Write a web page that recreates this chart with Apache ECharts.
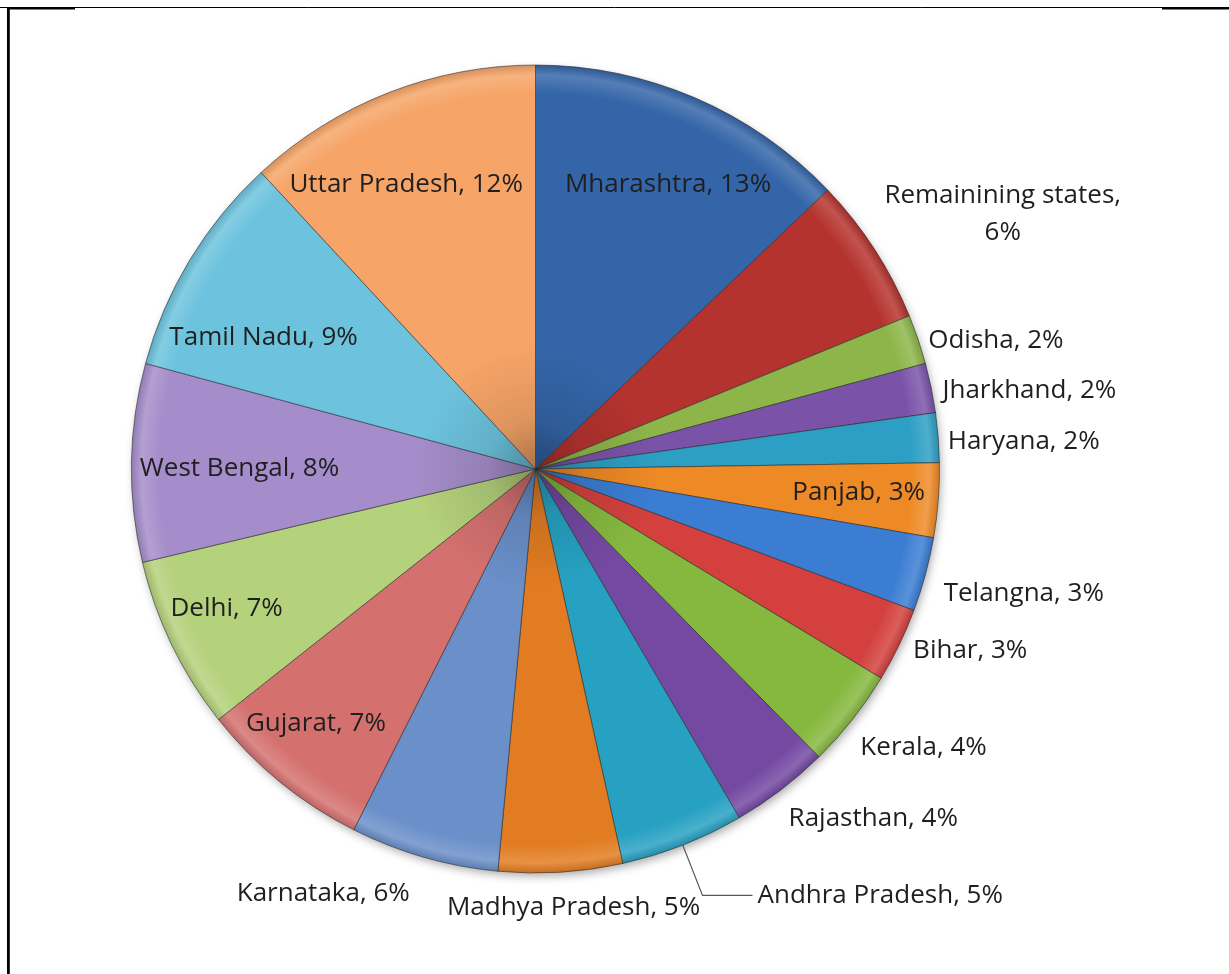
<!DOCTYPE html>
<html>
<head>
<meta charset="utf-8">
<script src="https://cdn.jsdelivr.net/npm/echarts@6/dist/echarts.min.js"></script>
<style>
  html, body { margin: 0; padding: 0; background: #ffffff; }
  #chart { width: 1229px; height: 974px; }
</style>
</head>
<body>
<div id="chart"></div>
<script>
// Share of each state, listed clockwise from 12 o'clock
const states = [
  'Mharashtra', 'Remainining states', 'Odisha', 'Jharkhand', 'Haryana', 'Panjab',
  'Telangna', 'Bihar', 'Kerala', 'Rajasthan', 'Andhra Pradesh', 'Madhya Pradesh',
  'Karnataka', 'Gujarat', 'Delhi', 'West Bengal', 'Tamil Nadu', 'Uttar Pradesh'
];
const shares = [13, 6, 2, 2, 2, 3, 3, 3, 4, 4, 5, 5, 6, 7, 7, 8, 9, 12];
const sliceColors = [
  '#3465A8', '#B5332F', '#8DB54A', '#7A53A8', '#2D9FC4', '#EE8A26',
  '#3B7DD3', '#D3403D', '#86B83F', '#7449A2', '#27A1C2', '#E27C22',
  '#6A8FC9', '#D4716F', '#B4D17B', '#A48DCA', '#6DC3DE', '#F6A467'
];

// Pie geometry
const CX = 535.5, CY = 469, R = 404;

// Label placement: [distance from centre in px, angular nudge in degrees from the slice middle]
const labelSpots = {
  'Mharashtra': [314, 1.8],
  'Remainining states': [532, 4.4],
  'Odisha': [478, 3.1],
  'Jharkhand': [500, 2.6],
  'Haryana': [489, 1.2],
  'Panjab': [324, -0.3],
  'Telangna': [504, -0.8],
  'Bihar': [471, -3.2],
  'Kerala': [478, -2.6],
  'Rajasthan': [486, -6.6],
  'Madhya Pradesh': [440, -1.4],
  'Karnataka': [475, 10.5],
  'Gujarat': [336, 1.6],
  'Delhi': [339, 1.5],
  'West Bengal': [296, -0.8],
  'Tamil Nadu': [302, -5.4],
  'Uttar Pradesh': [312, -3.1]
};

function shade(hex, f) {
  const n = parseInt(hex.slice(1), 16);
  let r = (n >> 16) & 255, g = (n >> 8) & 255, b = n & 255;
  const t = f < 0 ? 0 : 255, p = Math.abs(f);
  r = Math.round(r + (t - r) * p);
  g = Math.round(g + (t - g) * p);
  b = Math.round(b + (t - b) * p);
  return 'rgb(' + r + ',' + g + ',' + b + ')';
}

// Bevel-like fill: darker toward the hub, bright band just inside the rim
function bevelFill(c) {
  return {
    type: 'radial', x: CX, y: CY, r: R, global: true,
    colorStops: [
      { offset: 0, color: shade(c, -0.3) },
      { offset: 0.12, color: shade(c, -0.1) },
      { offset: 0.3, color: c },
      { offset: 0.93, color: c },
      { offset: 0.975, color: shade(c, 0.16) },
      { offset: 1, color: shade(c, -0.12) }
    ]
  };
}

const total = shares.reduce((a, b) => a + b, 0);

const pieData = states.map((name, i) => {
  const item = {
    name: name,
    value: shares[i],
    itemStyle: { color: bevelFill(sliceColors[i]) }
  };
  if (!labelSpots[name]) {
    item.labelLine = {
      show: true, length: 54, length2: 50,
      lineStyle: { color: '#5a5a5a', width: 1.2 }
    };
    item.label = { padding: [0, 0, 14, 0] };
  }
  return item;
});

const chart = echarts.init(document.getElementById('chart'), null, { renderer: 'canvas' });

chart.setOption({
  backgroundColor: '#ffffff',
  animation: false,
  graphic: [
    { type: 'line', silent: true, shape: { x1: 0, y1: 7.5, x2: 1229, y2: 7.5 }, style: { stroke: '#000', lineWidth: 1 } },
    { type: 'rect', silent: true, shape: { x: 7, y: 7, width: 68, height: 2.5 }, style: { fill: '#000' } },
    { type: 'rect', silent: true, shape: { x: 1162, y: 7, width: 67, height: 2.5 }, style: { fill: '#000' } },
    { type: 'rect', silent: true, shape: { x: 7, y: 7, width: 2.8, height: 967 }, style: { fill: '#000' } }
  ],
  series: [
    {
      // soft drop shadow under the whole pie
      type: 'pie',
      silent: true,
      z: 1,
      center: [CX, CY],
      radius: R - 1,
      label: { show: false },
      labelLine: { show: false },
      itemStyle: {
        color: '#ffffff',
        shadowBlur: 10,
        shadowColor: 'rgba(0,0,0,0.35)',
        shadowOffsetX: 2,
        shadowOffsetY: 4
      },
      data: [{ value: 1, name: '' }]
    },
    {
      type: 'pie',
      z: 2,
      center: [CX, CY],
      radius: R,
      startAngle: 90,
      clockwise: true,
      avoidLabelOverlap: false,
      itemStyle: {
        borderColor: 'rgba(35,35,35,0.55)',
        borderWidth: 1
      },
      emphasis: { disabled: true },
      label: {
        show: true,
        position: 'outside',
        fontFamily: 'Open Sans',
        fontSize: 26,
        lineHeight: 37,
        color: '#1f1f1f',
        formatter: function (p) {
          const pct = Math.round(p.percent) + '%';
          return p.name.length > 16 ? p.name + ',\n' + pct : p.name + ', ' + pct;
        }
      },
      labelLine: { show: false },
      labelLayout: function (params) {
        const i = params.dataIndex;
        const spot = labelSpots[states[i]];
        if (!spot) return {};
        let before = 0;
        for (let j = 0; j < i; j++) before += shares[j];
        const theta = (before + shares[i] / 2) / total * 2 * Math.PI + spot[1] * Math.PI / 180;
        return {
          x: CX + spot[0] * Math.sin(theta),
          y: CY - spot[0] * Math.cos(theta),
          align: 'center',
          verticalAlign: 'middle'
        };
      },
      data: pieData
    }
  ]
});
</script>
</body>
</html>
